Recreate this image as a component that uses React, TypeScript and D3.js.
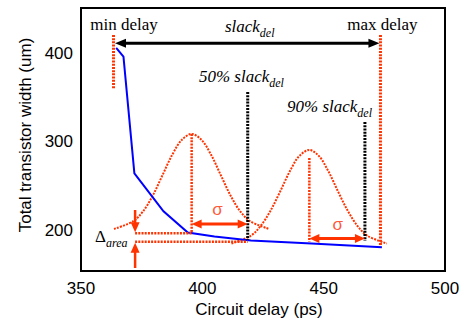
import React, { useEffect, useRef } from "react";
import * as d3 from "d3";

// blue trade-off curve (delay ps, width um)
const blueDelay = [364.5, 367.5, 372, 384, 394, 405, 420, 445, 474];
const blueWidth = [406, 396, 264, 221, 197, 192.5, 188, 184.5, 180.5];

// left distribution (around 50% slack)
const g1Delay = [363.6, 371.6, 375.6, 379.6, 383.6, 387.6, 391.6, 395.6, 399.6, 403.6, 407.6, 411.6, 415.6, 419.6, 427.6];
const g1Width = [201, 210, 221, 239, 262, 285, 302, 308.5, 302, 285, 262, 239, 221, 210, 201];

// right distribution (around 90% slack)
const g2Delay = [412, 420, 424, 428, 432, 436, 440, 444.1, 448, 452, 456, 460, 464, 468, 476];
const g2Width = [184.6, 193.4, 204.3, 221.2, 243, 266, 283.7, 290.4, 283.7, 266, 243, 221.2, 204.3, 193.4, 184.6];

const xTicks = [350, 400, 450, 500];
const yTicks = [200, 300, 400];

const minDelay = 363.4;
const maxDelay = 473.4;
const slack50 = 418.7;
const slack90 = 467;
const mean1 = 395.6;
const mean2 = 444.1;
const area1 = 196.3; // blue width at mean1
const area2 = 186.6; // blue width at slack50

const RED = "#ff3300";

const App: React.FC = () => {
  const svgRef = useRef<SVGSVGElement | null>(null);

  useEffect(() => {
    const svg = d3.select(svgRef.current);
    svg.selectAll("*").remove();

    const x = d3.scaleLinear().domain([350, 500]).range([81, 445]);
    const y = d3.scaleLinear().domain([153.5, 451]).range([271, 8]);

    const head = (x1: number, y1: number, x2: number, y2: number, color: string, len: number, wid: number) => {
      // triangle with tip at (x2,y2)
      const a = Math.atan2(y2 - y1, x2 - x1);
      const bx = x2 - len * Math.cos(a);
      const by = y2 - len * Math.sin(a);
      const px = -Math.sin(a) * wid / 2;
      const py = Math.cos(a) * wid / 2;
      svg.append("path")
        .attr("d", `M${x2},${y2}L${bx + px},${by + py}L${bx - px},${by - py}Z`)
        .attr("fill", color);
    };

    const arrow = (x1: number, y1: number, x2: number, y2: number, color: string, w: number, both: boolean, len = 9, wid = 9) => {
      const a = Math.atan2(y2 - y1, x2 - x1);
      const sx = both ? x1 + (len - 1) * Math.cos(a) : x1;
      const sy = both ? y1 + (len - 1) * Math.sin(a) : y1;
      svg.append("line")
        .attr("x1", sx).attr("y1", sy)
        .attr("x2", x2 - (len - 1) * Math.cos(a)).attr("y2", y2 - (len - 1) * Math.sin(a))
        .attr("stroke", color).attr("stroke-width", w);
      head(x1, y1, x2, y2, color, len, wid);
      if (both) head(x2, y2, x1, y1, color, len, wid);
    };

    const dotted = (d1: number, v1: number, d2: number, v2: number, color: string, w: number) => {
      svg.append("line")
        .attr("x1", x(d1)).attr("y1", y(v1))
        .attr("x2", x(d2)).attr("y2", y(v2))
        .attr("stroke", color)
        .attr("stroke-width", w)
        .attr("stroke-dasharray", "2,1.2");
    };

    // frame
    svg.append("rect")
      .attr("x", x(350)).attr("y", y(451))
      .attr("width", x(500) - x(350)).attr("height", y(153.5) - y(451))
      .attr("fill", "none").attr("stroke", "#000").attr("stroke-width", 2);

    // tick labels
    svg.selectAll(".xt").data(xTicks).enter().append("text")
      .attr("x", d => x(d)).attr("y", 294)
      .attr("text-anchor", "middle")
      .style("font-family", "Liberation Sans, Arial, sans-serif")
      .style("font-size", "17px")
      .text(d => d);

    svg.selectAll(".yt").data(yTicks).enter().append("text")
      .attr("x", 73).attr("y", d => y(d) + 6)
      .attr("text-anchor", "end")
      .style("font-family", "Liberation Sans, Arial, sans-serif")
      .style("font-size", "17px")
      .text(d => d);

    svg.append("text")
      .attr("x", 259).attr("y", 315)
      .attr("text-anchor", "middle")
      .style("font-family", "Liberation Sans, Arial, sans-serif")
      .style("font-size", "17px")
      .text("Circuit delay (ps)");

    svg.append("text")
      .attr("transform", "translate(31,135) rotate(-90)")
      .attr("text-anchor", "middle")
      .style("font-family", "Liberation Sans, Arial, sans-serif")
      .style("font-size", "17px")
      .text("Total transistor width (um)");

    // gaussians
    const line = d3.line<[number, number]>()
      .x(d => x(d[0])).y(d => y(d[1]))
      .curve(d3.curveCatmullRom);

    [[g1Delay, g1Width], [g2Delay, g2Width]].forEach(([ds, ws]) => {
      svg.append("path")
        .datum(ds.map((d, i) => [d, ws[i]] as [number, number]))
        .attr("d", line)
        .attr("fill", "none")
        .attr("stroke", RED)
        .attr("stroke-width", 2)
        .attr("stroke-dasharray", "2,1.2");
    });

    // blue curve
    svg.append("path")
      .datum(blueDelay.map((d, i) => [d, blueWidth[i]] as [number, number]))
      .attr("d", d3.line<[number, number]>().x(d => x(d[0])).y(d => y(d[1])))
      .attr("fill", "none")
      .attr("stroke", "#0000ff")
      .attr("stroke-width", 2);

    // min / max delay markers
    dotted(minDelay, 420.5, minDelay, 359.4, RED, 3);
    dotted(maxDelay, 420.5, maxDelay, 182.9, RED, 3);

    // slack lines
    dotted(slack50, 356, slack50, 188.6, "#000", 3);
    dotted(slack90, 322, slack90, 187.4, "#000", 3);

    // mean lines
    dotted(mean1, 308.5, mean1, 196.5, RED, 2.5);
    dotted(mean2, 281.3, mean2, 186.6, RED, 2.5);

    // area levels
    dotted(372.3, area1, mean1, area1, RED, 2.5);
    dotted(372.3, area2, slack50, area2, RED, 2.5);

    // slack arrow
    arrow(x(minDelay) + 1.5, y(411.1), x(maxDelay) - 1, y(411.1), "#000", 3, true, 11, 9);

    // delta area arrows
    arrow(x(372.3), y(222.5), x(372.3), y(area1) - 1, RED, 2.5, false, 10, 9);
    arrow(x(372.3), y(156.9), x(372.3), y(area2) + 1, RED, 2.5, false, 10, 9);

    // sigma arrows
    arrow(x(mean1), y(206.7), x(slack50), y(206.7), RED, 3, true, 10, 9);
    arrow(x(mean2), y(190.2), x(slack90), y(190.2), RED, 3, true, 10, 9);

    const serif = "Liberation Serif, Times New Roman, serif";

    svg.append("text")
      .attr("x", x(367.7)).attr("y", y(426.1))
      .attr("text-anchor", "middle")
      .style("font-family", serif).style("font-size", "17px")
      .text("min delay");

    svg.append("text")
      .attr("x", x(474.2)).attr("y", y(426.1))
      .attr("text-anchor", "middle")
      .style("font-family", serif).style("font-size", "17px")
      .text("max delay");

    const slackLabel = (d: number, v: number, prefix: string) => {
      const t = svg.append("text")
        .attr("x", x(d)).attr("y", y(v))
        .style("font-family", serif).style("font-size", "17px")
        .style("font-style", "italic");
      t.append("tspan").text(prefix + "slack");
      t.append("tspan").attr("dy", 5).style("font-size", "12px").text("del");
    };
    slackLabel(409.3, 423.9, "");
    slackLabel(398.6, 367.3, "50% ");
    slackLabel(434.9, 333.4, "90% ");

    const delta = svg.append("text")
      .attr("x", x(355.8)).attr("y", y(area2))
      .style("font-family", serif).style("font-size", "17px");
    delta.append("tspan").text("Δ");
    delta.append("tspan").attr("dy", 5).style("font-size", "12px").style("font-style", "italic").text("area");

    svg.append("text")
      .attr("x", x(406.3)).attr("y", y(216.8))
      .attr("text-anchor", "middle")
      .style("font-family", "Liberation Sans, Arial, sans-serif")
      .style("font-size", "17px")
      .attr("fill", "#ff5a3c")
      .text("σ");

    svg.append("text")
      .attr("x", x(455.8)).attr("y", y(199.9))
      .attr("text-anchor", "middle")
      .style("font-family", "Liberation Sans, Arial, sans-serif")
      .style("font-size", "17px")
      .attr("fill", "#ff5a3c")
      .text("σ");
  }, []);

  return (
    <div style={{ position: "absolute", left: 0, top: 0 }}>
      <svg ref={svgRef} width={472} height={320} style={{ display: "block", background: "#fff" }}></svg>
    </div>
  );
};

export default App;
